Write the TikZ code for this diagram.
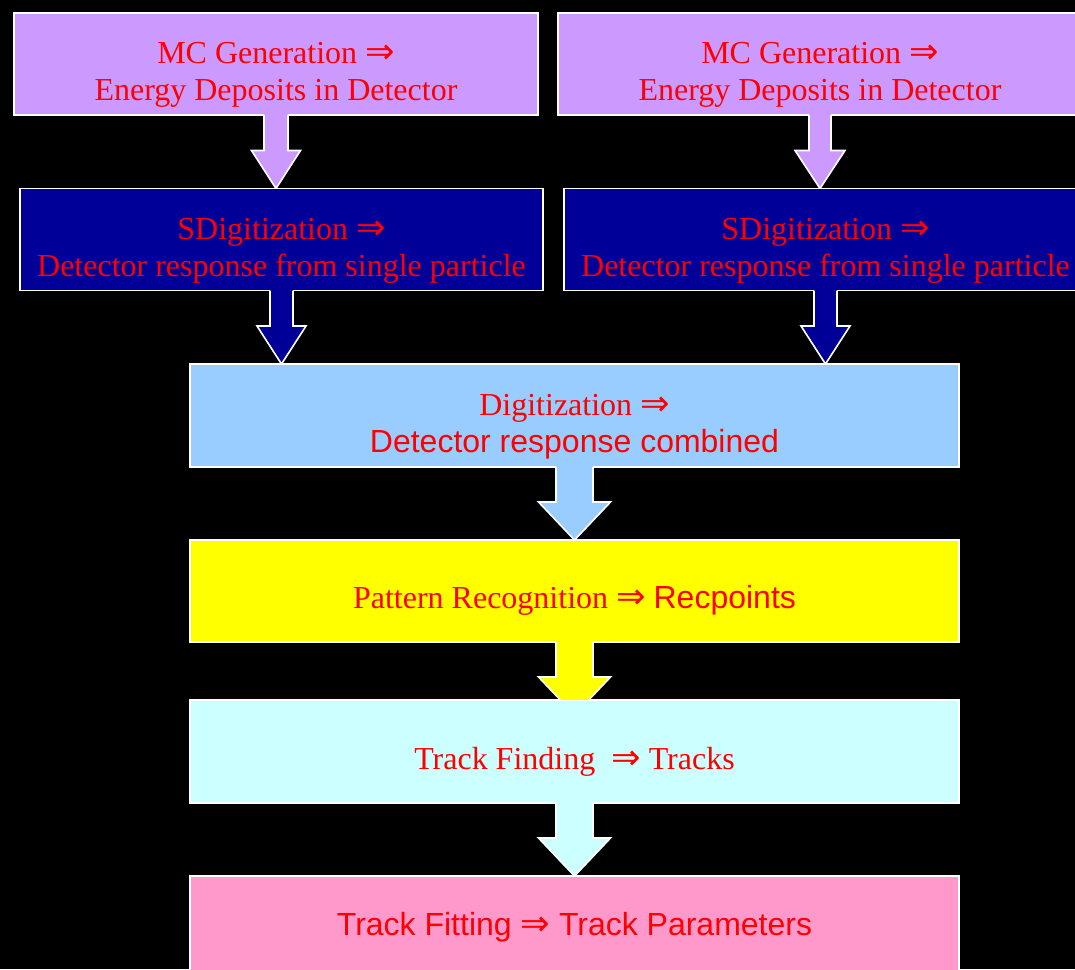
\documentclass[tikz,border=0pt]{standalone}
\usepackage{fontspec}
\setmainfont{Liberation Serif}
\setsansfont{Liberation Sans}
\newfontfamily\arrowfont[Scale=1.1]{DejaVu Sans}
\newcommand{\imp}{{\arrowfont ⇒}}
\usepackage{tikz}
\usetikzlibrary{calc}

\definecolor{mcviolet}{HTML}{CC99FF}
\definecolor{sdnavy}{HTML}{000099}
\definecolor{diglight}{HTML}{99CCFF}
\definecolor{patyellow}{HTML}{FFFF00}
\definecolor{findcyan}{HTML}{CCFFFF}
\definecolor{fitpink}{HTML}{FF99CC}

\tikzset{
  stage/.style={draw=white, line width=1.6pt, text=red, align=center,
    inner sep=0pt, outer sep=0pt, minimum height=102pt,
    font=\fontsize{32}{37}\selectfont},
  lowtext/.style={text height=#1},
  half/.style={stage, lowtext=80pt, minimum width=524pt},
  wide/.style={stage, lowtext=42pt, minimum width=769pt},
}

% block arrow from #1 down to #2: shaft half width #3, head half width #4,
% tip pushed #5 under the top of #2, filled with #6
\newcommand{\blockarrow}[6]{%
  \begin{scope}
    \path[clip] let \p2=(#2.north) in (-10,\y2+0.8) rectangle (1100,10);
    \path[fill=#6] let \p1=(#1.south), \p2=(#2.north) in
      (\x1-#3,\y1+0.8) -- (\x1-#3,\y2-#5+38) -- (\x1-#4,\y2-#5+38) -- (\x1,\y2-#5)
      -- (\x1+#4,\y2-#5+38) -- (\x1+#3,\y2-#5+38) -- (\x1+#3,\y1+0.8) -- cycle;
    \path[draw=white, line width=1.6pt] let \p1=(#1.south), \p2=(#2.north) in
      (\x1-#3,\y1) -- (\x1-#3,\y2-#5+38) -- (\x1-#4,\y2-#5+38) -- (\x1,\y2-#5)
      -- (\x1+#4,\y2-#5+38) -- (\x1+#3,\y2-#5+38) -- (\x1+#3,\y1);
  \end{scope}}

\begin{document}
\begin{tikzpicture}[x=1pt,y=1pt]
\path[use as bounding box, fill=black] (0,0) rectangle (1075,-969);

% two generation chains
\node[half, fill=mcviolet] (mcL) at (276,-64) {MC Generation \imp\\Energy Deposits in Detector};
\node[half, fill=mcviolet] (mcR) at (820,-64) {MC Generation \imp\\Energy Deposits in Detector};
\node[half, fill=sdnavy, minimum width=523pt] (sdL) at (281.5,-239.5) {SDigitization \imp\\Detector response from single particle};
\node[half, fill=sdnavy, minimum width=523pt] (sdR) at (825.5,-239.5) {SDigitization \imp\\Detector response from single particle};

% common chain
\node[wide, lowtext=80pt, fill=diglight, minimum height=103pt] (dig) at (574.5,-415.5) {Digitization \imp\\\textsf{Detector response combined}};
\node[wide, fill=patyellow] (pat) at (574.5,-591) {Pattern Recognition \imp{} \textsf{Recpoints}};
\node[wide, fill=findcyan, minimum height=103pt] (find) at (574.5,-751.5) {Track Finding~ \imp{} Tracks};
\node[stage, fill=fitpink, minimum width=769pt, minimum height=103pt] (fit) at (574.5,-927.5) {\textsf{Track Fitting \imp{} Track Parameters}};

\blockarrow{mcL}{sdL}{12}{24.5}{0}{mcviolet}
\blockarrow{mcR}{sdR}{11}{25}{0}{mcviolet}
\blockarrow{sdL}{dig}{11.5}{24.5}{0}{sdnavy}
\blockarrow{sdR}{dig}{11.5}{24.5}{0}{sdnavy}
\blockarrow{dig}{pat}{18.5}{36}{0}{diglight}
\blockarrow{pat}{find}{18.5}{36}{15}{patyellow}
\blockarrow{find}{fit}{18.5}{36}{0}{findcyan}
\end{tikzpicture}
\end{document}
